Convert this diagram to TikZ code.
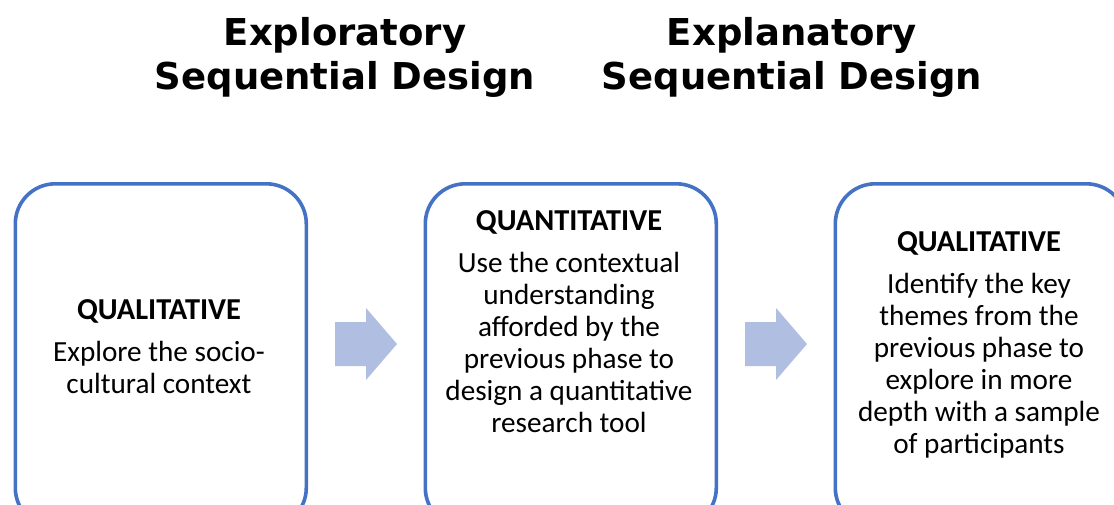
\documentclass[tikz,border=0pt]{standalone}
\usepackage{fontspec}
\setmainfont{Carlito}
\newfontfamily\titlefont{DejaVu Sans}
\usetikzlibrary{positioning}

\definecolor{boxline}{HTML}{4472C4}
\definecolor{arrowfill}{HTML}{B0BEE2}

\begin{document}
\begin{tikzpicture}[x=0.5pt,y=-0.5pt,
  phase/.style={draw=boxline,line width=1.8pt,rounded corners=20pt,
    minimum width=145.5pt,minimum height=172pt,anchor=north west,inner sep=0pt},
  phasetext/.style={align=center,inner sep=0pt,
    font=\fontsize{14.6}{16}\selectfont},
  title/.style={align=center,inner sep=0pt,
    font=\titlefont\bfseries\fontsize{18.5}{22}\selectfont},
  blockarrow/.style={fill=arrowfill}]
\useasboundingbox (0,0) rectangle (1114,504);
\clip (0,0) rectangle (1114,504);

% design titles
\node[title] (explor) at (345,57) {Exploratory\\Sequential Design};
\node[title] (explan) at (792,57) {Explanatory\\Sequential Design};

% the three phases (boxes run off the bottom and right edge)
\node[phase] (qual1) at (13.5,182) {};
\node[phase] (quant) at (423.5,182) {};
\node[phase] (qual2) at (833.5,182) {};

\node[phasetext] (qual1txt) at (159,347)
  {{\bfseries\fontsize{15.2}{16}\selectfont QUALITATIVE}\\[5pt]
   Explore the socio-\\cultural context};
\node[phasetext] (quanttxt) at (569,322)
  {{\bfseries\fontsize{15.2}{16}\selectfont QUANTITATIVE}\\[5pt]
   Use the contextual\\understanding\\afforded by the\\previous phase to\\
   design a quantitative\\research tool};
\node[phasetext] (qual2txt) at (979,345)
  {{\bfseries\fontsize{15.2}{16}\selectfont QUALITATIVE}\\[5pt]
   Identify the key\\themes from the\\previous phase to\\explore in more\\
   depth with a sample\\of participants};

% block arrows between the boxes
\coordinate (gap1) at (366,344);
\coordinate (gap2) at (776,344);
\foreach \g in {gap1,gap2}
  \fill[blockarrow,shift={(\g)}] (-31,-22) -- (0,-22) -- (0,-36) -- (31,0)
    -- (0,36) -- (0,22) -- (-31,22) -- cycle;
\end{tikzpicture}
\end{document}
